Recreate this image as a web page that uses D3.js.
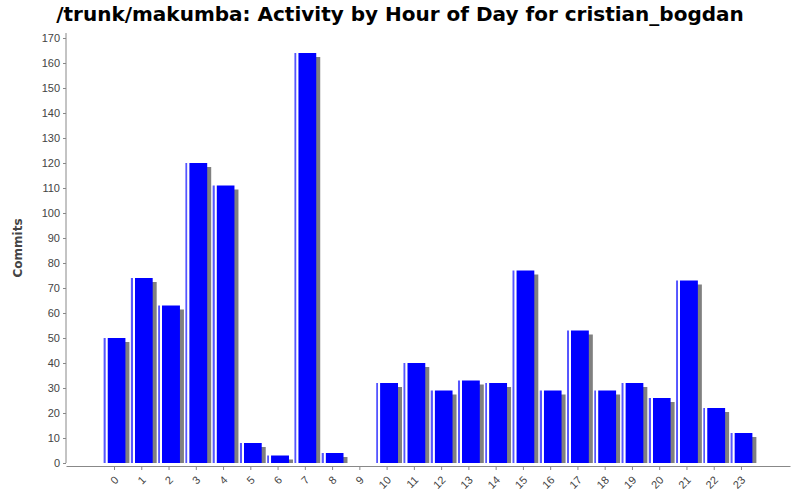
<!DOCTYPE html>
<html><head><meta charset="utf-8">
<script src="https://cdn.jsdelivr.net/npm/d3@7"></script>
<style>body{margin:0;background:#fff}</style>
</head><body><div id="chart"></div>
<script>
const hours = d3.range(24).map(String);
const commits = [50, 74, 63, 120, 111, 8, 3, 164, 4, 0, 32, 40, 29, 33, 32, 77, 29, 53, 29, 32, 26, 73, 22, 12];
const yTicks = d3.range(0, 171, 10);

const width = 800, height = 500;
const plot = {left: 66, right: 790, top: 33, bottom: 463};

const svg = d3.select("#chart").append("svg")
    .attr("width", width).attr("height", height)
    .style("font-family", "DejaVu Sans, sans-serif");

// gradient for bars
const grad = svg.append("defs").append("linearGradient").attr("id", "barGrad")
    .attr("x1", 0).attr("x2", 1).attr("y1", 0).attr("y2", 0);
grad.append("stop").attr("offset", "0%").attr("stop-color", "#5555ff");
grad.append("stop").attr("offset", "8%").attr("stop-color", "#5555ff");
grad.append("stop").attr("offset", "10%").attr("stop-color", "#ffffff");
grad.append("stop").attr("offset", "17%").attr("stop-color", "#ffffff");
grad.append("stop").attr("offset", "20%").attr("stop-color", "#0000ff");
grad.append("stop").attr("offset", "100%").attr("stop-color", "#0000ff");

const x = d3.scaleBand().domain(hours).range([plot.left, plot.right])
    .paddingInner(0.2).paddingOuter(1.38);
const y = d3.scaleLinear().domain([0, 170]).range([plot.bottom, plot.top + 5]);

// title
svg.append("text").attr("x", 400).attr("y", 21).attr("text-anchor", "middle")
    .attr("font-size", 20).attr("font-weight", "bold")
    .text("/trunk/makumba: Activity by Hour of Day for cristian_bogdan");

// shadows
svg.append("g").selectAll("rect").data(commits).join("rect")
    .attr("x", (d, i) => x(hours[i]) + 4)
    .attr("y", d => y(d) + 4)
    .attr("width", x.bandwidth())
    .attr("height", d => Math.max(0, plot.bottom - y(d) - 4))
    .attr("fill", "#808080");

// bars
svg.append("g").selectAll("rect").data(commits).join("rect")
    .attr("x", (d, i) => x(hours[i]))
    .attr("y", d => y(d))
    .attr("width", x.bandwidth())
    .attr("height", d => plot.bottom - y(d))
    .attr("fill", "url(#barGrad)");

// y axis
const yAxis = svg.append("g").attr("transform", `translate(${plot.left},0)`)
    .call(d3.axisLeft(y).tickValues(yTicks).tickSize(3).tickPadding(3));
yAxis.select(".domain").attr("stroke", "#888").attr("d", `M0,${plot.top}V${plot.bottom}`);
yAxis.selectAll(".tick line").attr("stroke", "#888");
yAxis.selectAll("text").attr("font-size", 11).attr("fill", "#444");

svg.append("text").attr("transform", `translate(22,${(plot.top + plot.bottom) / 2}) rotate(-90)`)
    .attr("text-anchor", "middle").attr("font-size", 12).attr("font-weight", "bold")
    .attr("fill", "#444").text("Commits");

// x axis
const xAxis = svg.append("g").attr("transform", `translate(0,${plot.bottom + 3})`)
    .call(d3.axisBottom(x).tickSize(4).tickSizeOuter(0));
xAxis.select(".domain").attr("stroke", "#888");
xAxis.selectAll(".tick line").attr("stroke", "#888");
xAxis.selectAll("text").attr("font-size", 11).attr("fill", "#444")
    .attr("text-anchor", "end").attr("dy", "0.35em")
    .attr("transform", "translate(2,12) rotate(-45)")
    .attr("x", 0).attr("y", 0);
</script></body></html>
